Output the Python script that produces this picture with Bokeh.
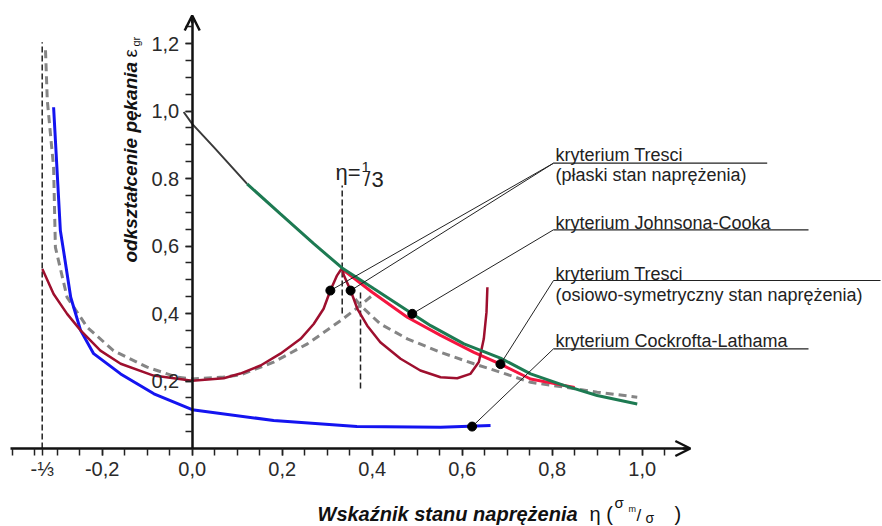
import numpy as np
from bokeh.plotting import figure
from bokeh.models import Range1d, FixedTicker, Label, Arrow, OpenHead
from bokeh.embed import file_html
from bokeh.resources import INLINE

# ---------------- data ----------------
# Tresca criterion, plane stress (dark red)
tresca_ps_eta = [-0.333, -0.308, -0.278, -0.248, -0.204, -0.159, -0.086, 0.0, 0.07, 0.107,
                 0.152, 0.196, 0.241, 0.270, 0.292, 0.307, 0.322, 0.333, 0.337, 0.352,
                 0.367, 0.389, 0.418, 0.463, 0.507, 0.552, 0.589, 0.618, 0.637, 0.648,
                 0.654, 0.656]
tresca_ps_eps = [0.532, 0.458, 0.399, 0.35, 0.29, 0.251, 0.216, 0.201, 0.208, 0.222,
                 0.246, 0.281, 0.325, 0.369, 0.414, 0.468, 0.513, 0.535, 0.513, 0.468,
                 0.414, 0.364, 0.315, 0.266, 0.231, 0.211, 0.208, 0.221, 0.256, 0.325,
                 0.404, 0.478]
# Tresca criterion, axisymmetric (red)
tresca_ax_eta = [0.333, 0.40, 0.478, 0.552, 0.626, 0.685, 0.752, 0.826, 0.85]
tresca_ax_eps = [0.532, 0.463, 0.389, 0.335, 0.285, 0.250, 0.206, 0.187, 0.181]
# Johnson-Cook criterion (dark start, then green)
jc_dark_eta = [-0.019, 0.0, 0.048, 0.122]
jc_dark_eps = [0.997, 0.962, 0.893, 0.784]
jc_eta = [0.122, 0.196, 0.27, 0.333, 0.404, 0.489, 0.53, 0.604, 0.685, 0.752, 0.826, 0.9, 0.989]
jc_eps = [0.784, 0.695, 0.607, 0.535, 0.473, 0.399, 0.364, 0.31, 0.268, 0.221, 0.187, 0.157, 0.132]
# Cockcroft-Latham criterion (blue)
cl_eta = [-0.308, -0.293, -0.286, -0.27, -0.248, -0.219, -0.159, -0.085, 0.0, 0.181, 0.366, 0.552, 0.663]
cl_eps = [1.011, 0.646, 0.587, 0.448, 0.35, 0.281, 0.221, 0.162, 0.115, 0.083, 0.065, 0.063, 0.068]
# grey dashed curve (two branches)
gray_a_eta = [-0.326, -0.322, -0.308, -0.304, -0.278, -0.233, -0.175, -0.1, -0.033, 0.0,
              0.07, 0.107, 0.181, 0.256, 0.33, 0.374, 0.404]
gray_a_eps = [1.18, 1.031, 0.833, 0.596, 0.448, 0.359, 0.29, 0.241, 0.211, 0.206,
              0.212, 0.218, 0.256, 0.31, 0.379, 0.424, 0.458]
gray_b_eta = [0.344, 0.374, 0.418, 0.478, 0.552, 0.626, 0.685, 0.752, 0.826, 0.9, 0.989]
gray_b_eps = [0.473, 0.424, 0.369, 0.325, 0.285, 0.251, 0.226, 0.196, 0.182, 0.167, 0.152]
# vertical reference lines: x, y_from, y_to
vlines_x = [-1/3, 1/3, 0.374]
vlines_y0 = [0.0, 0.40, 0.178]
vlines_y1 = [1.204, 0.779, 0.468]
# marker dots for leaders
dot_eta = [0.307, 0.352, 0.489, 0.685, 0.622]
dot_eps = [0.468, 0.468, 0.399, 0.250, 0.065]
# tick labels
x_major = [-1/3, -0.2, 0.0, 0.2, 0.4, 0.6, 0.8, 1.0]
x_labels = ["-⅓", "-0,2", "0,0", "0,2", "0,4", "0,6", "0,8", "1,0"]
y_major = [0.2, 0.4, 0.6, 0.8, 1.0, 1.2]
y_labels = ["0,2", "0,4", "0,6", "0.8", "1,0", "1,2"]
x_minor = [round(-0.4 + 0.05 * i, 2) for i in range(30)]
y_minor = [round(0.05 * i, 2) for i in range(1, 26)]
legend_lines = [["kryterium Tresci", "(płaski stan naprężenia)"],
                ["kryterium Johnsona-Cooka"],
                ["kryterium Tresci", "(osiowo-symetryczny stan naprężenia)"],
                ["kryterium Cockrofta-Lathama"]]

# ---------------- layout helpers (pixel -> data) ----------------
W, H = 882, 526
def X(px):
    return (px - 191.7) / 450.0
def Y(py):
    return (448.0 - py) / 337.5

FONT = "Liberation Sans"
p = figure(width=W, height=H, output_backend="svg", toolbar_location=None, title=None,
           x_range=Range1d(X(0), X(W)), y_range=Range1d(Y(H), Y(0)),
           min_border=0, outline_line_color=None,
           background_fill_color="white", border_fill_color="white")
p.grid.visible = False

for ax in (p.xaxis[0], p.yaxis[0]):
    ax.fixed_location = 0
    ax.axis_line_width = 2.5
    ax.axis_line_color = "#111111"
    ax.major_tick_line_width = 1.5
    ax.minor_tick_line_width = 1.5
    ax.major_tick_line_color = "#222222"
    ax.minor_tick_line_color = "#222222"
    ax.major_tick_in = 0
    ax.minor_tick_in = 0
    ax.major_tick_out = 7
    ax.minor_tick_out = 7
    ax.major_label_text_font = FONT
    ax.major_label_text_font_size = "20px"
    ax.major_label_text_color = "#2a2a2a"

p.xaxis.bounds = (-0.404, 1.10)
p.yaxis.bounds = (0.0, 1.275)
p.xaxis.ticker = FixedTicker(ticks=x_major, minor_ticks=x_minor)
p.yaxis.ticker = FixedTicker(ticks=y_major, minor_ticks=y_minor)
p.xaxis.major_label_overrides = dict(zip(x_major, x_labels))
p.yaxis.major_label_overrides = dict(zip(y_major, y_labels))
p.xaxis.major_label_standoff = 2
p.yaxis.major_label_standoff = 6

# arrow heads at axis ends
p.add_layout(Arrow(end=OpenHead(size=15, line_width=2.5, line_color="#111111"),
                   x_start=1.09, y_start=0, x_end=1.107, y_end=0,
                   line_width=2.5, line_color="#111111"))
p.add_layout(Arrow(end=OpenHead(size=15, line_width=2.5, line_color="#111111"),
                   x_start=0, y_start=1.26, x_end=0, y_end=1.283,
                   line_width=2.5, line_color="#111111"))

# vertical dashed lines
p.segment(x0=vlines_x, y0=vlines_y0, x1=vlines_x, y1=vlines_y1,
          line_color="#222222", line_width=1.5, line_dash="6 3")

# curves
p.line(gray_a_eta, gray_a_eps, line_color="#858585", line_width=3, line_dash="8 5")
p.line(gray_b_eta, gray_b_eps, line_color="#858585", line_width=3, line_dash="8 5")
p.line(cl_eta, cl_eps, line_color="#1414f0", line_width=3)
p.line(tresca_ax_eta, tresca_ax_eps, line_color="#f5153f", line_width=3)
p.line(tresca_ps_eta, tresca_ps_eps, line_color="#9e0f2e", line_width=2.5)
p.line(jc_dark_eta, jc_dark_eps, line_color="#3a3a3a", line_width=2)
p.line(jc_eta, jc_eps, line_color="#1d7a52", line_width=3)

SHIFT = 0.25  # em shift so that the alphabetic baseline lands where intended


def label(px, base_py, text, size, style="normal", color="#222222"):
    p.add_layout(Label(x=X(px), y=Y(base_py - SHIFT * size), text=text, text_font=FONT,
                       text_font_size=f"{size}px", text_font_style=style,
                       text_color=color, text_baseline="alphabetic", text_align="left"))


def vlabel(base_px, py, text, size, style="normal", color="#111111"):
    p.add_layout(Label(x=X(base_px - SHIFT * size), y=Y(py), text=text, angle=np.pi / 2,
                       text_font=FONT, text_font_size=f"{size}px", text_font_style=style,
                       text_color=color, text_baseline="alphabetic", text_align="left"))


# legend texts with underlines and leader lines
text_x = 555
baselines = [[158.5, 178.5], [226.5], [277.5, 298.5], [345]]
underline_y = [162.7, 229.3, 280.0, 348.3]
underline_x1 = [766.7, 808, 880, 808]
for lines, bls in zip(legend_lines, baselines):
    for t, b in zip(lines, bls):
        label(text_x, b, t, 18)
p.segment(x0=[X(553)] * 4, y0=[Y(v) for v in underline_y],
          x1=[X(v) for v in underline_x1], y1=[Y(v) for v in underline_y],
          line_color="#222222", line_width=1.2)
leader_to = [0, 0, 1, 2, 3]
p.segment(x0=dot_eta, y0=dot_eps,
          x1=[X(553)] * 5, y1=[Y(underline_y[i]) for i in leader_to],
          line_color="#222222", line_width=1)
p.scatter(dot_eta, dot_eps, size=9, color="black")

# eta = 1/3 label
label(335, 177, "η=", 22)
label(361, 170, "1", 15)
label(364, 183, "/", 21)
label(371, 184, "3", 22)

# y axis title
vlabel(135, 262, "odkształcenie pękania", 19, "bold italic")
vlabel(135, 57, "ε", 19)
vlabel(138, 46, "gr", 11)

# x axis title
label(317, 518, "Wskaźnik stanu naprężenia", 20, "bold italic", "#111111")
label(589, 518, "η (", 20, "normal", "#111111")
label(614, 506, "σ", 15, "normal", "#111111")
label(628, 511, "m", 9, "normal", "#111111")
label(636, 519, "/", 17, "normal", "#111111")
label(645, 521, "σ", 14, "normal", "#111111")
label(674, 518, ")", 20, "normal", "#111111")

open("out.html", "w").write(file_html(p, INLINE))
